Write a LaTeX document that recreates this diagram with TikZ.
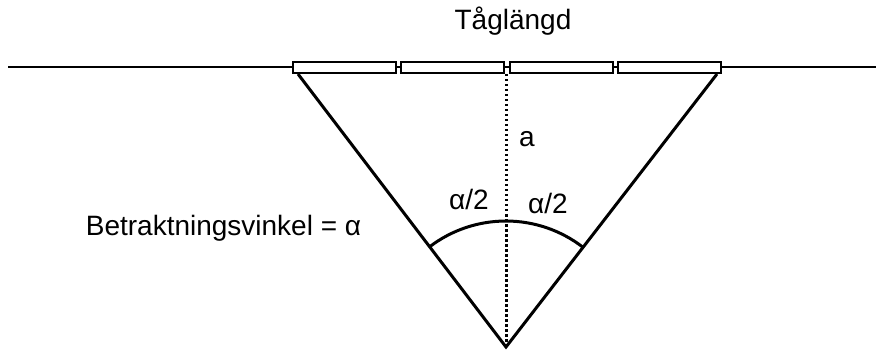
\documentclass[tikz,border=0pt]{standalone}
\usepackage{fontspec}
\setmainfont{Liberation Sans}
\usetikzlibrary{calc}
\begin{document}
\begin{tikzpicture}[x=1pt,y=-1pt,
  lbl/.style={font=\fontsize{28}{32}\selectfont, inner sep=0pt, anchor=base},
  wagon/.style={draw, line width=2pt, fill=white, minimum width=103pt, minimum height=11pt, inner sep=0pt},
  leg/.style={line width=3pt},
  dots/.style={line width=3pt, dash pattern=on 2.5pt off 2.5pt}]
\useasboundingbox (0,0) rectangle (884,350);
\coordinate (L) at (8,67);
\coordinate (R) at (876,67);
\coordinate (apex) at (506,347);
\coordinate (tl) at (298,74);
\coordinate (tr) at (717,74);
\coordinate (top) at (506,74);
\draw[line width=2pt] (L) -- (R);
\draw[leg, line join=miter] (tl) -- (apex) -- (tr);
\draw[dots] (top) -- (apex);
\node[wagon] (w1) at (344.5,68) {};
\node[wagon] (w2) at (452,68) {};
\node[wagon] (w3) at (561,68) {};
\node[wagon] (w4) at (669,68) {};
\draw[leg] ($(apex)!126pt!(tl)$) arc[start angle=127.3, end angle=52.3, radius=126pt];
\node[lbl] (train) at (513,30) {Tåglängd};
\node[lbl] (a) at (527,147) {a};
\node[lbl] (h1) at (469,210) {α/2};
\node[lbl] (h2) at (548,213) {α/2};
\node[lbl] (view) at (223.5,235) {Betraktningsvinkel = α};
\end{tikzpicture}
\end{document}
